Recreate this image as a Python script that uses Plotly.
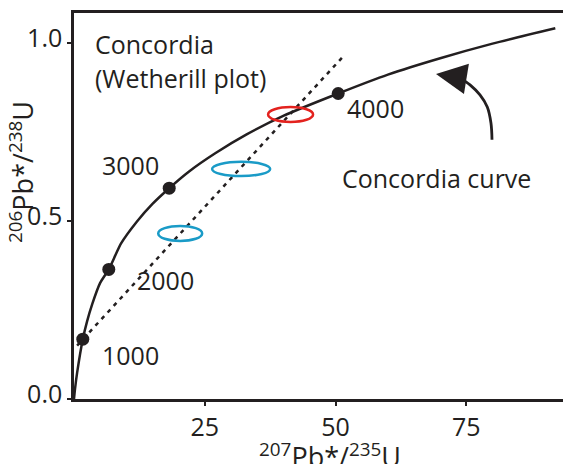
import plotly.graph_objects as go

# Concordia curve (207Pb*/235U, 206Pb*/238U)
curve_x = [0, 0.2, 0.6, 1.68, 2.5, 3.5, 5, 6.65, 9, 12, 15, 18.2, 22, 27, 33, 40, 50.5, 60, 70, 80, 92]
curve_y = [0, 0.029, 0.074, 0.168, 0.218, 0.267, 0.326, 0.364, 0.437, 0.498, 0.548, 0.592,
           0.639, 0.690, 0.743, 0.795, 0.858, 0.911, 0.957, 0.998, 1.041]

# Age markers on the curve (Ma)
age_labels = ["1000", "2000", "3000", "4000"]
age_x = [1.68, 6.65, 18.2, 50.5]
age_y = [0.168, 0.364, 0.592, 0.858]
age_label_x = [5.0, 11.7, 5.0, 51.8]
age_label_y = [0.124, 0.334, 0.657, 0.817]

# Discordia (dashed) line
disc_x = [0.6, 51.2]
disc_y = [0.150, 0.958]

# Error ellipses: bounding boxes (x0, x1, y0, y1)
ell_x0 = [16.1, 26.4, 37.1]
ell_x1 = [24.5, 37.5, 45.7]
ell_y0 = [0.444, 0.626, 0.778]
ell_y1 = [0.486, 0.666, 0.820]
ell_colors = ["#1a9bc7", "#1a9bc7", "#e3221e"]

# Curved arrow pointing at the curve
arc_x = [79.9, 79.7, 79.0, 77.6, 75.7, 73.8]
arc_y = [0.728, 0.775, 0.820, 0.854, 0.882, 0.902]
arrow_tip = (69.2, 0.913)

x_ticks = [25, 50, 75]
y_ticks = [0.0, 0.5, 1.0]
y_ticktext = ["0.0", "0.5", "1.0"]

INK = "#231f20"
FONT = "Open Sans"
FS = 25
FS_TITLE = 27

fig = go.Figure()

fig.add_trace(go.Scatter(x=disc_x, y=disc_y, mode="lines",
                         line=dict(color=INK, width=2.5, dash="4px,5px"),
                         hoverinfo="skip"))
fig.add_trace(go.Scatter(x=curve_x, y=curve_y, mode="lines",
                         line=dict(color=INK, width=2.5, shape="spline", smoothing=0.6),
                         hoverinfo="skip"))
fig.add_trace(go.Scatter(x=age_x, y=age_y, mode="markers",
                         marker=dict(color=INK, size=13), hoverinfo="skip"))
fig.add_trace(go.Scatter(x=arc_x, y=arc_y, mode="lines",
                         line=dict(color=INK, width=2.8, shape="spline"),
                         hoverinfo="skip"))

for x0, x1, y0, y1, c in zip(ell_x0, ell_x1, ell_y0, ell_y1, ell_colors):
    fig.add_shape(type="circle", xref="x", yref="y", x0=x0, x1=x1, y0=y0, y1=y1,
                  line=dict(color=c, width=2.5))

annotations = []
for t, lx, ly in zip(age_labels, age_label_x, age_label_y):
    annotations.append(dict(x=lx, y=ly, text=t, showarrow=False, xanchor="left",
                            yanchor="middle", font=dict(size=FS, color=INK, family=FONT)))

annotations += [
    dict(x=3.6, y=0.997, text="Concordia", showarrow=False, xanchor="left", yanchor="middle",
         font=dict(size=FS, color=INK, family=FONT)),
    dict(x=3.6, y=0.902, text="(Wetherill plot)", showarrow=False, xanchor="left", yanchor="middle",
         font=dict(size=FS, color=INK, family=FONT)),
    dict(x=50.9, y=0.621, text="Concordia curve", showarrow=False, xanchor="left", yanchor="middle",
         font=dict(size=FS, color=INK, family=FONT)),
    dict(x=arrow_tip[0], y=arrow_tip[1], ax=arc_x[-1], ay=arc_y[-1], axref="x", ayref="y",
         xref="x", yref="y", text="", showarrow=True, arrowhead=2, arrowsize=2.2,
         arrowwidth=2.8, arrowcolor=INK, standoff=0, startstandoff=0),
    dict(x=0.515, y=0, xref="paper", yref="paper", yshift=-56, xanchor="center", yanchor="middle",
         text="<sup>207</sup>Pb*/<sup>235</sup>U", showarrow=False,
         font=dict(size=FS_TITLE, color=INK, family=FONT)),
    dict(x=0, y=0.588, xref="paper", yref="paper", xshift=-53, xanchor="center", yanchor="middle",
         text="<sup>206</sup>Pb*/<sup>238</sup>U", showarrow=False, textangle=-90,
         font=dict(size=FS_TITLE, color=INK, family=FONT)),
]

# The page body adds an 8 px offset; margins are reduced to compensate.
fig.update_layout(
    width=571, height=464,
    margin=dict(l=66, r=8, t=5, b=73, autoexpand=False),
    paper_bgcolor="white", plot_bgcolor="white",
    showlegend=False,
    annotations=annotations,
    xaxis=dict(range=[0, 95.0], tickvals=x_ticks, showgrid=False, zeroline=False,
               showline=True, linecolor=INK, linewidth=2.5, mirror=True, automargin=False,
               ticks="outside", ticklen=4, tickwidth=2, tickcolor=INK,
               tickfont=dict(size=FS, color=INK, family=FONT)),
    yaxis=dict(range=[0, 1.084], tickvals=y_ticks, ticktext=y_ticktext, showgrid=False,
               zeroline=False, showline=True, linecolor=INK, linewidth=2.5, automargin=False,
               ticks="outside", ticklen=4, tickwidth=2, tickcolor=INK, ticklabelshift=-5,
               tickfont=dict(size=FS, color=INK, family=FONT)),
)

fig.write_html("out.html")
